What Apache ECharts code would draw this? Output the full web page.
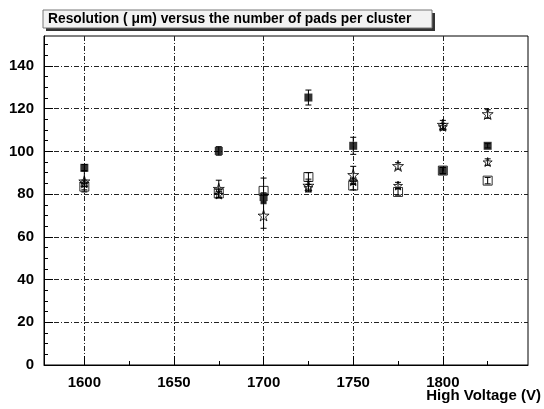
<!DOCTYPE html>
<html>
<head>
<meta charset="utf-8">
<script src="https://cdn.jsdelivr.net/npm/echarts@6/dist/echarts.min.js"></script>
<style>
  html, body { margin: 0; padding: 0; background: #fff; }
  #chart { width: 544px; height: 409px; }
</style>
</head>
<body>
<div id="chart"></div>
<script>
// High voltage settings (V)
const highVoltage = [1600, 1675, 1700, 1725, 1750, 1775, 1800, 1825];

// Resolution (µm) for each pad multiplicity, with errors
const padsA      = [92.3, 100.2, 78.6, 125.2, 102.6, null, 91.0, 102.6];
const padsAErr   = [1.5, 2.0, 2.0, 3.5, 4.0, null, 1.5, 1.0];
const padsB      = [83.5, 80.3, 81.5, 88.0, 84.0, 81.0, 91.0, 86.3];
const padsBErr   = [1.5, 2.0, 6.0, 2.0, 2.0, 1.5, 1.5, 1.5];
const padsC      = [86.0, 82.5, 70.0, 84.0, 89.0, 93.2, 112.5, 117.5];
const padsCErr   = [5.0, 4.0, 6.0, 3.0, 4.0, 1.5, 2.0, 2.0];
const padsD      = [85.0, 79.8, null, 83.0, 86.0, 84.0, 111.5, 95.0];
const padsDErr   = [1.5, 1.5, null, 1.5, 1.5, 1.5, 1.5, 1.5];

// Axis tick labels
const xTickLabels = [1600, 1650, 1700, 1750, 1800];
const xMinorTicks = [1600, 1625, 1650, 1675, 1700, 1725, 1750, 1775, 1800, 1825];
const yTickLabels = [0, 20, 40, 60, 80, 100, 120, 140];
const yMinorTicks = [];
for (let v = 0; v <= 150; v += 5) yMinorTicks.push(v);

const STAR = 'path://M10,0L12.23,6.93L19.51,6.91L13.61,11.17L15.88,18.09L10,13.8L4.12,18.09L6.39,11.17L0.49,6.91L7.77,6.93Z';
const FONT = '"Liberation Sans", Arial, Helvetica, sans-serif';
const gridDash = [5, 2, 1, 2];

function pts(vals) {
  return highVoltage.map((x, i) => vals[i] == null ? null : [x, vals[i]]).filter(Boolean);
}
function errs(vals, e) {
  return highVoltage.map((x, i) => vals[i] == null ? null : [x, vals[i] - e[i], vals[i] + e[i]]).filter(Boolean);
}

function errorBar(params, api) {
  const lo = api.coord([api.value(0), api.value(1)]);
  const hi = api.coord([api.value(0), api.value(2)]);
  const cap = 3;
  const style = { stroke: '#000', lineWidth: 1 };
  return {
    type: 'group',
    children: [
      { type: 'line', shape: { x1: lo[0], y1: lo[1], x2: hi[0], y2: hi[1] }, style },
      { type: 'line', shape: { x1: lo[0] - cap, y1: lo[1], x2: lo[0] + cap, y2: lo[1] }, style },
      { type: 'line', shape: { x1: hi[0] - cap, y1: hi[1], x2: hi[0] + cap, y2: hi[1] }, style }
    ]
  };
}

function errSeries(vals, e) {
  return {
    type: 'custom', xAxisIndex: 0, yAxisIndex: 0,
    renderItem: errorBar, data: errs(vals, e), silent: true, z: 3,
    encode: { x: 0, y: [1, 2] }
  };
}

const hollow = { color: 'rgba(0,0,0,0)', borderColor: '#000', borderWidth: 1 };
const labelStyle = { color: '#000', fontSize: 15, fontWeight: 'bold', fontFamily: FONT, margin: 10,
                     formatter: v => String(v) };

const chart = echarts.init(document.getElementById('chart'), null, { renderer: 'canvas' });
chart.setOption({
  animation: false,
  backgroundColor: '#fff',
  grid: { left: 44, right: 16, top: 36, bottom: 44, show: true, borderColor: '#000', borderWidth: 1, backgroundColor: 'transparent' },
  graphic: [
    { type: 'rect', shape: { x: 46, y: 13, width: 389, height: 18 }, style: { fill: '#333' }, z: 10 },
    { type: 'rect', shape: { x: 43, y: 10, width: 389, height: 18 }, style: { fill: '#f2f2f2', stroke: '#777', lineWidth: 1 }, z: 11 },
    { type: 'text', x: 48, y: 19.5, z: 12,
      style: { text: 'Resolution ( μm) versus the number of pads per cluster', fill: '#000',
               font: 'bold 13.8px ' + FONT, textVerticalAlign: 'middle' } },
    { type: 'text', right: 3, top: 388, z: 12,
      style: { text: 'High Voltage (V)', fill: '#000', font: 'bold 15px ' + FONT } }
  ],
  xAxis: [
    {
      type: 'value', min: 1577.5, max: 1847.5,
      axisLine: { show: true, onZero: false, lineStyle: { color: '#000' } },
      axisTick: { show: true, inside: true, length: 9, customValues: xTickLabels, lineStyle: { color: '#000' } },
      axisLabel: Object.assign({ customValues: xTickLabels }, labelStyle),
      splitLine: { show: true, lineStyle: { color: '#222', type: gridDash, width: 1 } }
    },
    {
      type: 'value', min: 1577.5, max: 1847.5, position: 'bottom',
      axisLine: { show: false },
      axisTick: { show: true, inside: true, length: 4, customValues: xMinorTicks, lineStyle: { color: '#000' } },
      axisLabel: { show: false },
      splitLine: { show: false }
    }
  ],
  yAxis: [
    {
      type: 'value', min: 0, max: 154,
      axisLine: { show: true, onZero: false, lineStyle: { color: '#000' } },
      axisTick: { show: true, inside: true, length: 9, customValues: yTickLabels, lineStyle: { color: '#000' } },
      axisLabel: Object.assign({ customValues: yTickLabels }, labelStyle),
      splitLine: { show: true, lineStyle: { color: '#222', type: gridDash, width: 1 } }
    },
    {
      type: 'value', min: 0, max: 154, position: 'left',
      axisLine: { show: false },
      axisTick: { show: true, inside: true, length: 4, customValues: yMinorTicks, lineStyle: { color: '#000' } },
      axisLabel: { show: false },
      splitLine: { show: false }
    }
  ],
  series: [
    errSeries(padsA, padsAErr),
    errSeries(padsB, padsBErr),
    errSeries(padsC, padsCErr),
    errSeries(padsD, padsDErr),
    { type: 'scatter', name: 'A', data: pts(padsA), symbol: 'rect', symbolSize: 8,
      itemStyle: { color: '#000' }, z: 5 },
    { type: 'scatter', name: 'B', data: pts(padsB), symbol: 'rect', symbolSize: 9,
      itemStyle: hollow, z: 5 },
    { type: 'scatter', name: 'C', data: pts(padsC), symbol: STAR, symbolSize: 11,
      itemStyle: hollow, z: 5 },
    { type: 'scatter', name: 'D', data: pts(padsD), symbol: STAR, symbolSize: 9,
      itemStyle: hollow, z: 5 }
  ]
});
</script>
</body>
</html>
